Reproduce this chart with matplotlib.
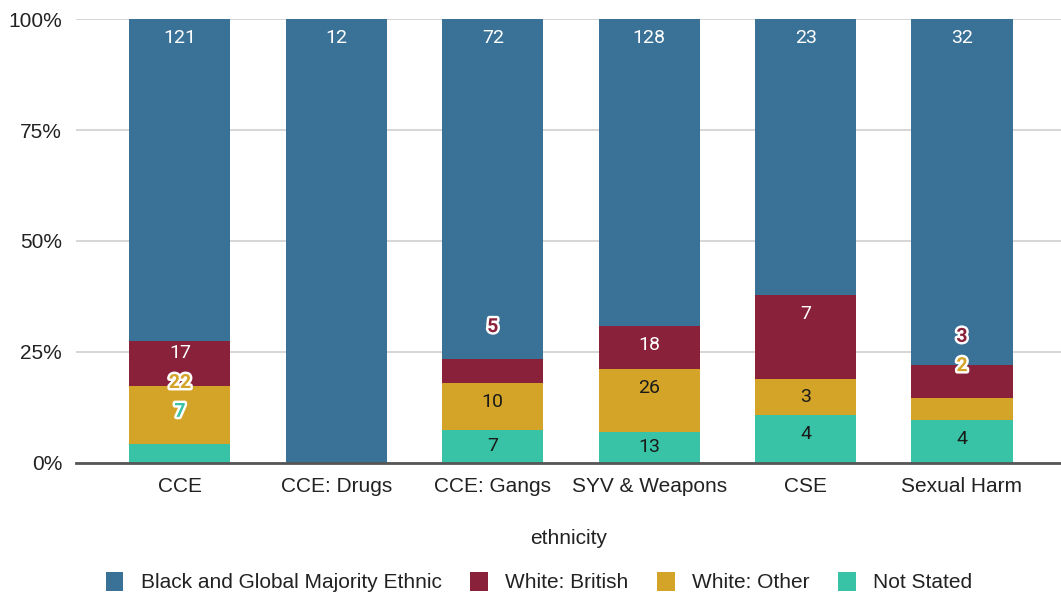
import numpy as np
import matplotlib
matplotlib.use("Agg")
from matplotlib import pyplot as plt
from matplotlib.patches import Patch
import matplotlib.patheffects as pe

categories = ["CCE", "CCE: Drugs", "CCE: Gangs", "SYV & Weapons", "CSE", "Sexual Harm"]
series_names = ["Not Stated", "White: Other", "White: British", "Black and Global Majority Ethnic"]
not_stated = [7, 0, 7, 13, 4, 4]
white_other = [22, 0, 10, 26, 3, 2]
white_british = [17, 0, 5, 18, 7, 3]
black_gme = [121, 12, 72, 128, 23, 32]

colors = {"Black and Global Majority Ethnic": "#3a7197",
          "White: British": "#8a213a",
          "White: Other": "#d3a428",
          "Not Stated": "#38c3a6"}
text_colors = {"Black and Global Majority Ethnic": "white",
               "White: British": "white",
               "White: Other": "#1a1a1a",
               "Not Stated": "#1a1a1a"}

# labels that don't fit inside their slice get moved and outlined (bar index, series) -> y in %
moved_labels = {(0, "Not Stated"): 11.5, (0, "White: Other"): 18.0, (0, "White: British"): 24.8,
                (2, "White: British"): 30.6,
                (5, "White: British"): 28.4, (5, "White: Other"): 21.8}
outlined = {(0, "Not Stated"), (0, "White: Other"), (2, "White: British"),
            (5, "White: British"), (5, "White: Other")}

counts = np.array([not_stated, white_other, white_british, black_gme], dtype=float)
totals = counts.sum(axis=0)
pct = counts / totals * 100

fig = plt.figure(figsize=(10.61, 5.95), dpi=100)
ax = fig.add_axes([0.0716, 0.222, 0.9284, 0.746])

x = np.arange(len(categories))
width = 0.646
px_per_pct = 444 / 100.0
bottom = np.zeros(len(categories))
for s, name in enumerate(series_names):
    ax.bar(x, pct[s], width, bottom=bottom, color=colors[name], zorder=2)
    for i in range(len(categories)):
        if counts[s, i] == 0:
            continue
        top = bottom[i] + pct[s, i]
        seg_px = pct[s, i] * px_per_pct
        if (i, name) in moved_labels:
            y = moved_labels[(i, name)]
        elif seg_px < 38:
            y = bottom[i] + pct[s, i] / 2
        else:
            y = top - 19 / px_per_pct
        if (i, name) in outlined:
            ax.text(x[i], y, str(int(counts[s, i])), ha="center", va="center",
                    fontsize=14, family="Roboto", fontweight="bold", color=colors[name], zorder=4,
                    path_effects=[pe.withStroke(linewidth=3.5, foreground="white")])
        else:
            ax.text(x[i], y, str(int(counts[s, i])), ha="center", va="center",
                    fontsize=14, family="Roboto", color=text_colors[name], zorder=4)
    bottom += pct[s]

ax.set_xlim(-0.665, 5.633)
ax.set_ylim(0, 100)
ax.set_yticks([0, 25, 50, 75, 100])
ax.set_yticklabels(["0%", "25%", "50%", "75%", "100%"])
ax.set_xticks(x)
ax.set_xticklabels(categories)
ax.tick_params(axis="both", length=0, labelsize=15, labelcolor="#222222", labelfontfamily="Liberation Sans")
ax.tick_params(axis="y", pad=10)
ax.tick_params(axis="x", pad=10)
ax.grid(axis="y", color="#d6d6d6", linewidth=1.4, zorder=0)
ax.set_axisbelow(True)
for sp in ["top", "right", "left"]:
    ax.spines[sp].set_visible(False)
ax.spines["bottom"].set_color("#555555")
ax.spines["bottom"].set_linewidth(2)
ax.spines["bottom"].set_zorder(3)

ax.set_xlabel("ethnicity", fontsize=15, family="Liberation Sans", color="#222222", labelpad=24)

legend_order = ["Black and Global Majority Ethnic", "White: British", "White: Other", "Not Stated"]
handles = [Patch(facecolor=colors[n], edgecolor="none") for n in legend_order]
fig.legend(handles, legend_order, loc="center", bbox_to_anchor=(0.508, 1 - 582 / 595), ncol=4,
           frameon=False, prop={"family": "Liberation Sans", "size": 15},
           handlelength=0.85, handleheight=1.05, handletextpad=0.85, columnspacing=1.35,
           labelcolor="#222222")

fig.savefig("out.png", dpi=100)
